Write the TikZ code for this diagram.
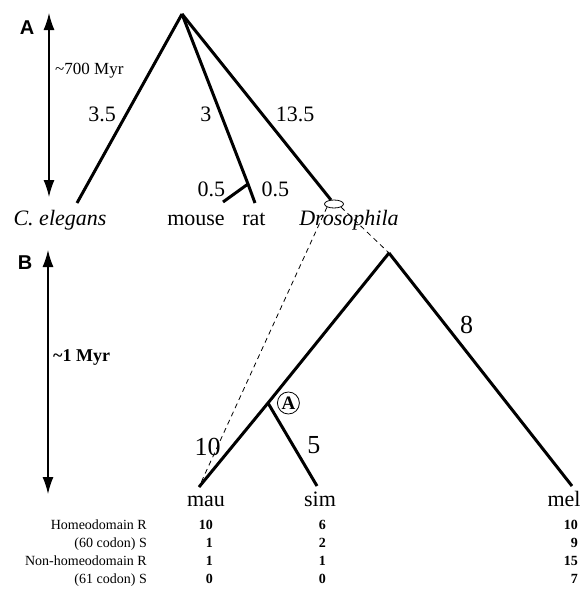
\documentclass[tikz,border=0pt]{standalone}
\usepackage{fontspec}
\setmainfont{Liberation Serif}
\newfontfamily\panelfont{Liberation Sans}
\usetikzlibrary{arrows.meta, positioning, shapes.geometric}
\tikzset{
  panel/.style={
    font=\panelfont\bfseries\fontsize{20}{22}\selectfont,
    inner sep=0pt
  },
  branch/.style={line width=3pt},
  scalearrow/.style={
    {Latex[length=17pt,width=11pt]}-{Latex[length=17pt,width=11pt]},
    line width=1.3pt
  },
  zoomline/.style={dashed, dash pattern=on 5pt off 4pt, line width=0.8pt},
  agelab/.style={font=\fontsize{17}{19}\selectfont, inner sep=0pt, anchor=west},
  lenlab/.style={font=\fontsize{22}{25}\selectfont, inner sep=0pt},
  leaf/.style={font=\fontsize{22}{25}\selectfont, inner sep=0pt, anchor=base},
  ring/.style={ellipse, draw, line width=0.8pt, minimum width=19pt, minimum height=8pt, inner sep=0pt},
  circlab/.style={
    circle,
    draw,
    line width=0.8pt,
    minimum size=22pt,
    inner sep=0pt,
    font=\bfseries\fontsize{19}{21}\selectfont
  },
  rowlab/.style={font=\fontsize{14}{16}\selectfont, inner sep=0pt, anchor=base east},
  tally/.style={font=\bfseries\fontsize{14}{16}\selectfont, inner sep=0pt, anchor=base east}
}
\begin{document}
\begin{tikzpicture}[x=1pt, y=-1pt]
  \useasboundingbox (0,0) rectangle (582,592);

  % (A) deep divergence
  \node[panel] (labA) at (27,28) {A};
  \coordinate (agetopA) at (49,13);
  \coordinate (agebotA) at (49,197);
  \draw[scalearrow] (agetopA) -- (agebotA);
  \node[agelab] (ageA) at (55,71) {\textasciitilde700 Myr};

  \coordinate (rootA) at (182,14);
  \coordinate (cel) at (77,203);
  \coordinate (mr) at (248,184);
  \coordinate (mouse) at (223,202);
  \coordinate (rat) at (255,203);
  \coordinate (dros) at (331,200);

  \draw[branch] (rootA) -- node[lenlab, pos=0.53, left=9pt] {3.5} (cel);
  \draw[branch] (rootA) -- node[lenlab, pos=0.59, left=8pt] {3} (mr)
    -- node[lenlab, pos=0.3, right=10pt] {0.5} (rat);
  \draw[branch] (mr) -- node[lenlab, pos=0.3, left=14pt] {0.5} (mouse);
  \draw[branch] (rootA) -- node[lenlab, pos=0.54, right=12pt] {13.5} (dros);
  \node[ring] (dring) at (334,204) {};

  \node[leaf] (celLab) at (60,225) {\itshape C. elegans};
  \node[leaf] (mouseLab) at (196,225) {mouse};
  \node[leaf] (ratLab) at (254,225) {rat};
  \node[leaf] (drosLab) at (349,225) {\itshape Drosophila};

  % (B) Drosophila close-up
  \node[panel] (labB) at (25,263) {B};
  \coordinate (agetopB) at (48,250);
  \coordinate (agebotB) at (48,494);
  \draw[scalearrow] (agetopB) -- (agebotB);
  \node[agelab, font=\bfseries\fontsize{18}{20}\selectfont] (ageB) at (53,357) {\textasciitilde1 Myr};

  \coordinate (rootB) at (389,253);
  \coordinate (nA) at (268,403);
  \coordinate (mau) at (199,487);
  \coordinate (sim) at (317,486);
  \coordinate (mel) at (572,486);

  \draw[zoomline] (dring.south west) -- (mau);
  \draw[zoomline] (dring.south east) -- (rootB);

  \draw[branch] (rootB) -- (nA) -- node[lenlab, font=\fontsize{26}{28}\selectfont, pos=0.52, left=10pt] {10} (mau);
  \draw[branch] (nA) -- node[lenlab, font=\fontsize{26}{28}\selectfont, pos=0.51, right=13pt] {5} (sim);
  \draw[branch] (rootB) -- node[lenlab, font=\fontsize{26}{28}\selectfont, pos=0.31, right=13pt] {8} (mel);
  \node[circlab, right=9pt of nA] (circA) {A};

  \node[leaf] (mauLab) at (206,506) {mau};
  \node[leaf] (simLab) at (320,506) {sim};
  \node[leaf] (melLab) at (564,506) {mel};

  % substitution counts
  \foreach \rowname/\vmau/\vsim/\vmel [count=\i] in {Homeodomain R/10/6/10, {(60 codon) S}/1/2/9, Non-homeodomain R/1/1/15, {(61 codon) S}/0/0/7}{
    \node[rowlab] (row\i) at (147,511+18*\i) {\rowname};
    \node[tally] (mau\i) at (213,511+18*\i) {\vmau};
    \node[tally] (sim\i) at (326,511+18*\i) {\vsim};
    \node[tally] (mel\i) at (578,511+18*\i) {\vmel};
  }
\end{tikzpicture}
\end{document}
